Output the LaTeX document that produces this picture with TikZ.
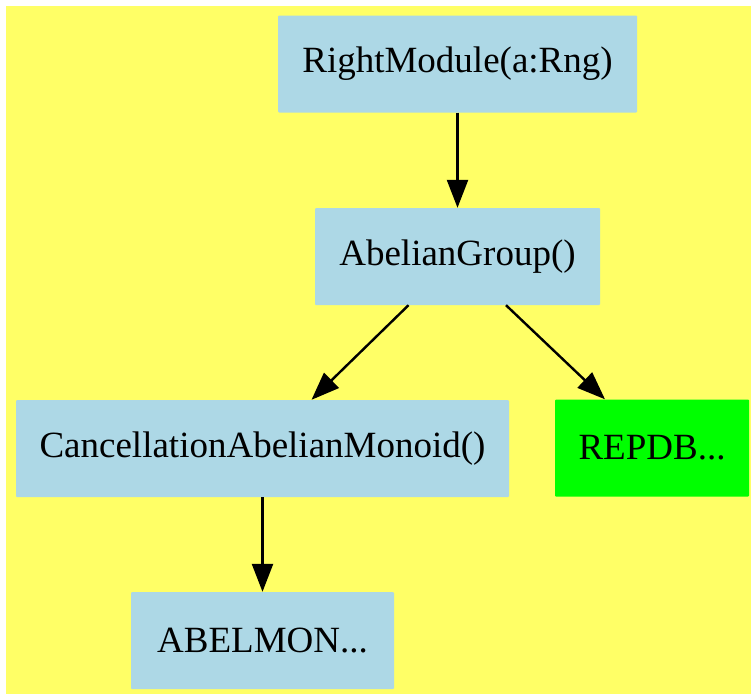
\documentclass[tikz,border=0pt]{standalone}
\usepackage{fontspec}
\setmainfont{Liberation Serif}
\usetikzlibrary{arrows.meta}
\definecolor{bgyellow}{HTML}{FFFF66}
\definecolor{boxblue}{HTML}{ADD8E6}
\definecolor{boxgreen}{HTML}{00FF00}
\begin{document}
\begin{tikzpicture}[x=1pt,y=-1pt,
  box/.style={rectangle, rounded corners=1pt, fill=boxblue, inner sep=0pt,
    minimum height=97pt, font=\fontsize{37}{44}\selectfont, text=black},
  greenbox/.style={box, fill=boxgreen},
  conn/.style={line width=2.4pt, -{Triangle[length=28pt,width=21pt]}}]
\useasboundingbox (0,0) rectangle (751,694);
\fill[white] (0,0) rectangle (751,694);
\fill[bgyellow] (6,6) rectangle (751,694);
\node[box, minimum width=359pt] (rm) at (457.5,64) {RightModule(a:Rng)};
\node[box, minimum width=285pt] (ag) at (457.5,256.5) {AbelianGroup()};
\node[box, minimum width=493pt] (cam) at (262.5,448.5) {CancellationAbelianMonoid()};
\node[greenbox, minimum width=194pt] (rep) at (652,448) {REPDB...};
\node[box, minimum width=263pt] (abm) at (262.5,640.5) {ABELMON...};
\draw[conn] (rm.south) -- (ag.north);
\draw[conn] ([xshift=-49pt]ag.south) -- ([xshift=49pt]cam.north);
\draw[conn] ([xshift=48.5pt]ag.south) -- ([xshift=-47pt]rep.north);
\draw[conn] (cam.south) -- (abm.north);
\end{tikzpicture}
\end{document}
